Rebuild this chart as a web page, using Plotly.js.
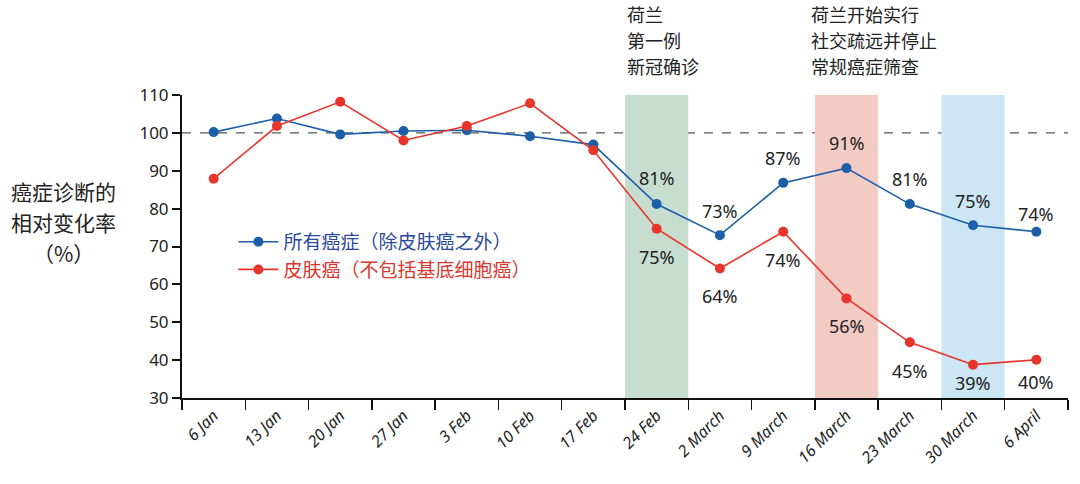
<!DOCTYPE html>
<html>
<head>
<meta charset="utf-8">
<script src="https://cdn.plot.ly/plotly-3.0.1.min.js"></script>
<style>html,body{margin:0;padding:0;background:#fff;}#chart{width:1080px;height:484px;}</style>
</head>
<body>
<div id="chart"></div>
<script>
// ---- data ----
const weeks = ['6 Jan','13 Jan','20 Jan','27 Jan','3 Feb','10 Feb','17 Feb','24 Feb','2 March','9 March','16 March','23 March','30 March','6 April'];
const allCancers = [100.2, 103.8, 99.6, 100.5, 100.7, 99.1, 96.9, 81.2, 73.0, 86.8, 90.7, 81.2, 75.6, 73.9];
const skinCancer = [87.9, 101.8, 108.2, 98.0, 101.8, 107.8, 95.4, 74.7, 64.2, 73.9, 56.3, 44.7, 38.8, 40.1];
const allLabels  = ['', '', '', '', '', '', '', '81%', '73%', '87%', '91%', '81%', '75%', '74%'];
const skinLabels = ['', '', '', '', '', '', '', '75%', '64%', '74%', '56%', '45%', '39%', '40%'];
const seriesNames = ['所有癌症（除皮肤癌之外）', '皮肤癌（不包括基底细胞癌）'];
const bandWeeks = ['24 Feb', '16 March', '30 March'];
const yTitleLines = ['癌症诊断的', '相对变化率', '（%）'];
const note1Lines = ['荷兰', '第一例', '新冠确诊'];
const note2Lines = ['荷兰开始实行', '社交疏远并停止', '常规癌症筛查'];
const yTicks = [30, 40, 50, 60, 70, 80, 90, 100, 110];

// ---- styles ----
const blue = '#1c5ea8', red = '#e8352b';
const bandColors = ['#c6ddd0', '#f2cbc5', '#cce7f3'];
const blueShift = [0,0,0,0,0,0,0, 26, 24, 25, 25, 25, 24, 18];
const redShift  = [0,0,0,0,0,0,0, -28, -28, -28, -28, -29, -18, -22];
const titleLineY = [0.683, 0.581, 0.479];
const noteLineY = [1.267, 1.182, 1.096];
const cjk = '"Noto Sans CJK SC", "Noto Sans", sans-serif';
const latin = '"Noto Sans", "DejaVu Sans", sans-serif';

const traces = [
  {x: weeks, y: allCancers, name: '<span style="color:#2c4a9a">' + seriesNames[0] + '</span>',
   mode: 'lines+markers', line: {color: blue, width: 1.6}, marker: {color: blue, size: 10}},
  {x: weeks, y: skinCancer, name: '<span style="color:#d8372e">' + seriesNames[1] + '</span>',
   mode: 'lines+markers', line: {color: red, width: 1.6}, marker: {color: red, size: 10}}
];

const shapes = bandWeeks.map((w, i) => {
  const k = weeks.indexOf(w);
  return {type: 'rect', xref: 'x', yref: 'y', x0: k - 0.5, x1: k + 0.5, y0: 30, y1: 110,
          fillcolor: bandColors[i], line: {width: 0}, layer: 'below'};
});
shapes.push({type: 'line', xref: 'paper', yref: 'y', x0: 0, x1: 1, y0: 100, y1: 100,
             line: {color: '#555', width: 1.3, dash: 'dash'}, layer: 'below'});

const annotations = [];
weeks.forEach((w, i) => {
  if (allLabels[i]) annotations.push({x: w, y: allCancers[i], text: allLabels[i], showarrow: false,
    yshift: blueShift[i], font: {family: latin, size: 18, color: '#222'}});
  if (skinLabels[i]) annotations.push({x: w, y: skinCancer[i], text: skinLabels[i], showarrow: false,
    yshift: redShift[i], font: {family: latin, size: 18, color: '#222'}});
});
yTitleLines.forEach((t, i) => {
  annotations.push({xref: 'paper', yref: 'paper', x: -0.134, y: titleLineY[i], text: t, showarrow: false,
    xanchor: 'center', yanchor: 'middle', align: 'center', font: {family: cjk, size: 21, color: '#222'}});
});
note1Lines.forEach((t, i) => {
  annotations.push({xref: 'x', yref: 'paper', x: weeks.indexOf('24 Feb') - 0.5, y: noteLineY[i], text: t,
    showarrow: false, xanchor: 'left', yanchor: 'middle', align: 'left', font: {family: cjk, size: 18, color: '#222'}});
});
note2Lines.forEach((t, i) => {
  annotations.push({xref: 'x', yref: 'paper', x: weeks.indexOf('16 March') - 0.6, y: noteLineY[i], text: t,
    showarrow: false, xanchor: 'left', yanchor: 'middle', align: 'left', font: {family: cjk, size: 18, color: '#222'}});
});

const layout = {
  width: 1080, height: 484,
  margin: {l: 182, r: 12, t: 95, b: 86},
  paper_bgcolor: '#fff', plot_bgcolor: '#fff',
  showlegend: true,
  legend: {x: 0.058, y: 0.578, xanchor: 'left', yanchor: 'top', bgcolor: 'rgba(0,0,0,0)',
           font: {family: cjk, size: 19}, tracegroupgap: 0, itemwidth: 40},
  xaxis: {type: 'category', range: [-0.5, 13.5], tickson: 'boundaries', ticks: 'outside', ticklen: 10,
          tickwidth: 1.5, tickcolor: '#111', showline: true, linecolor: '#111', linewidth: 2,
          showgrid: false, zeroline: false, tickangle: -45,
          tickfont: {family: latin, size: 16, color: '#222', style: 'italic'}},
  yaxis: {range: [30, 110], tickvals: yTicks, ticks: 'outside', ticklen: 8, tickwidth: 2, tickcolor: '#111',
          showline: true, linecolor: '#111', linewidth: 2, showgrid: false, zeroline: false,
          tickfont: {family: latin, size: 17, color: '#222'}},
  shapes: shapes,
  annotations: annotations
};

Plotly.newPlot('chart', traces, layout, {displayModeBar: false, staticPlot: true});
</script>
</body>
</html>
